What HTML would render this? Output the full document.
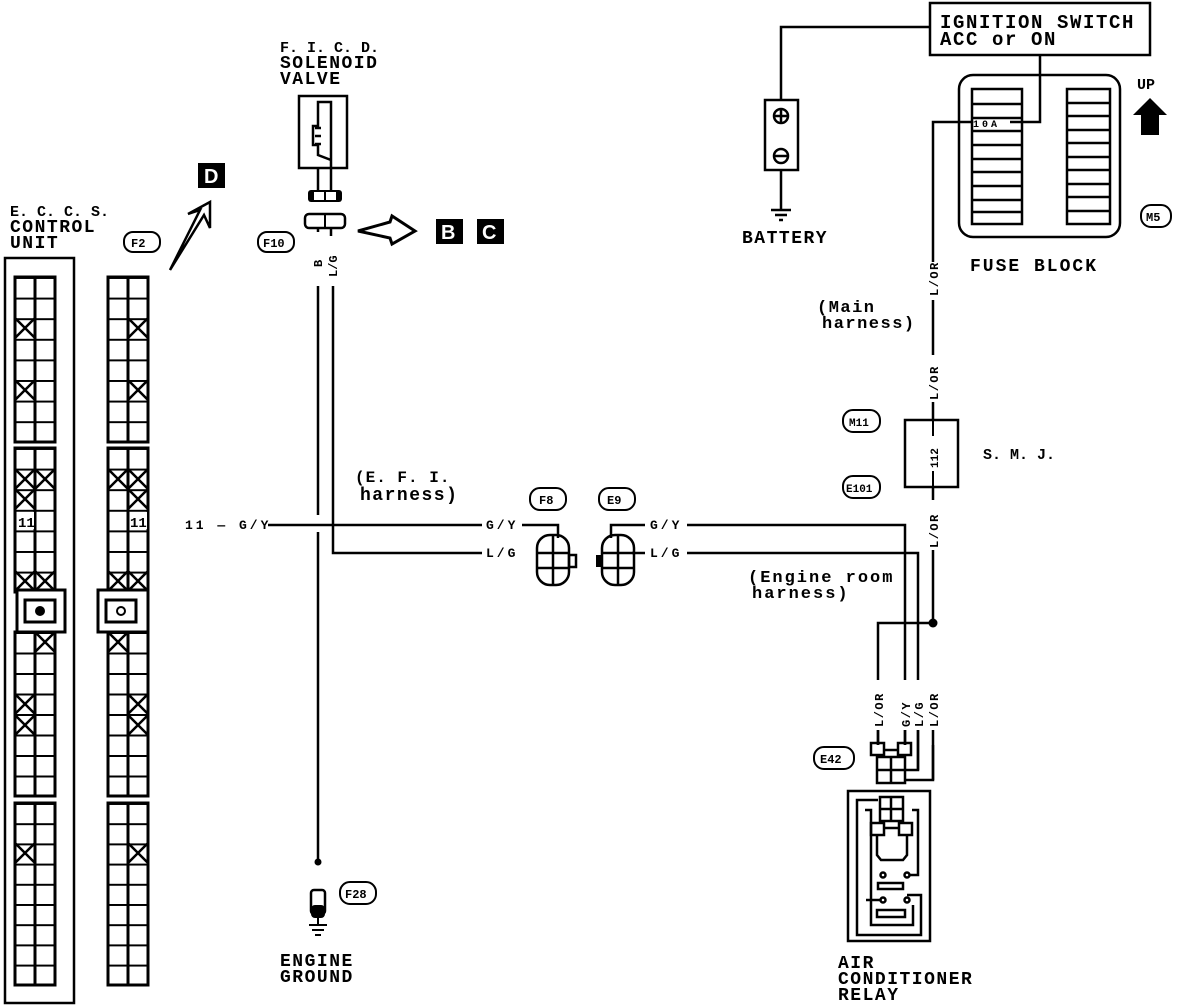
<!DOCTYPE html>
<html><head><meta charset="utf-8"><style>
body{margin:0;background:#fff}
svg{display:block}
text{font-family:"Liberation Mono",monospace;font-weight:bold;fill:#000}
.w{font-size:18px;letter-spacing:1.5px}
.s{font-size:13px;letter-spacing:3px}
</style></head><body>
<svg width="1200" height="1008" viewBox="0 0 1200 1008" xmlns="http://www.w3.org/2000/svg">
<defs>
<pattern id="pA" patternUnits="userSpaceOnUse" x="0" y="277" width="200" height="20.6"><line x1="0" y1="0" x2="200" y2="0" stroke="#000" stroke-width="4"/></pattern>
<pattern id="pB" patternUnits="userSpaceOnUse" x="0" y="448" width="200" height="20.6"><line x1="0" y1="0" x2="200" y2="0" stroke="#000" stroke-width="4"/></pattern>
<pattern id="pC" patternUnits="userSpaceOnUse" x="0" y="632" width="200" height="20.5"><line x1="0" y1="0" x2="200" y2="0" stroke="#000" stroke-width="4"/></pattern>
<pattern id="pD" patternUnits="userSpaceOnUse" x="0" y="803" width="200" height="20.2"><line x1="0" y1="0" x2="200" y2="0" stroke="#000" stroke-width="4"/></pattern>
</defs>
<g fill="none" stroke="#000" stroke-width="3">
<rect x="5" y="258" width="69" height="745" stroke-width="2.5"/>
<g>
<rect x="15" y="277" width="40" height="165" fill="url(#pA)"/>
<rect x="15" y="448" width="40" height="144" fill="url(#pB)"/>
<rect x="15" y="632" width="40" height="164" fill="url(#pC)"/>
<rect x="15" y="803" width="40" height="182" fill="url(#pD)"/>
<line x1="35" y1="277" x2="35" y2="442"/><line x1="35" y1="448" x2="35" y2="592"/><line x1="35" y1="632" x2="35" y2="796"/><line x1="35" y1="803" x2="35" y2="985"/>
</g>
<g>
<rect x="108" y="277" width="40" height="165" fill="url(#pA)"/>
<rect x="108" y="448" width="40" height="144" fill="url(#pB)"/>
<rect x="108" y="632" width="40" height="164" fill="url(#pC)"/>
<rect x="108" y="803" width="40" height="182" fill="url(#pD)"/>
<line x1="128" y1="277" x2="128" y2="442"/><line x1="128" y1="448" x2="128" y2="592"/><line x1="128" y1="632" x2="128" y2="796"/><line x1="128" y1="803" x2="128" y2="985"/>
</g>
<g stroke-width="2.5">
<path d="M15 318l20 20M35 318l-20 20 M15 380l20 20M35 380l-20 20 M15 469l20 20M35 469l-20 20 M35 469l20 20M55 469l-20 20 M15 489l20 20M35 489l-20 20 M15 571l20 20M35 571l-20 20 M35 571l20 20M55 571l-20 20 M35 632l20 20M55 632l-20 20 M15 694l20 20M35 694l-20 20 M15 715l20 20M35 715l-20 20 M15 843l20 20M35 843l-20 20"/>
<path d="M128 318l20 20M148 318l-20 20 M128 380l20 20M148 380l-20 20 M108 469l20 20M128 469l-20 20 M128 469l20 20M148 469l-20 20 M128 489l20 20M148 489l-20 20 M108 571l20 20M128 571l-20 20 M128 571l20 20M148 571l-20 20 M108 632l20 20M128 632l-20 20 M128 694l20 20M148 694l-20 20 M128 715l20 20M148 715l-20 20 M128 843l20 20M148 843l-20 20"/>
</g>
<rect x="17" y="590" width="48" height="42" fill="#fff"/>
<rect x="25" y="600" width="30" height="22"/>
<rect x="98" y="590" width="50" height="42" fill="#fff"/>
<rect x="106" y="600" width="30" height="22"/>
<circle cx="121" cy="611" r="4" stroke-width="2"/>
</g>
<circle cx="40" cy="611" r="5" fill="#000"/>
<rect x="17" y="512" width="17" height="17" fill="#fff"/><text x="18" y="527" font-size="14">11</text>
<rect x="130" y="512" width="17" height="17" fill="#fff"/><text x="130" y="527" font-size="14">11</text>

<text x="10" y="216" font-size="15">E. C. C. S.</text>
<text x="10" y="232" class="w">CONTROL</text>
<text x="10" y="248" class="w">UNIT</text>
<rect x="124" y="232" width="36" height="20" rx="9" fill="none" stroke="#000" stroke-width="2"/><text x="131" y="247" font-size="12">F2</text>
<rect x="198" y="163" width="27" height="25" fill="#000"/><text x="204" y="183" font-size="20" style="fill:#fff;font-family:'Liberation Sans',sans-serif">D</text>
<path d="M170 270 L200 210 L188 214 L210 202 L210 228 L204 215 Z" fill="none" stroke="#000" stroke-width="2.5"/>

<text x="280" y="52" font-size="15">F. I. C. D.</text>
<text x="280" y="68" class="w">SOLENOID</text>
<text x="280" y="84" class="w">VALVE</text>
<g fill="none" stroke="#000" stroke-width="2.5">
<rect x="299" y="96" width="48" height="72"/>
<path d="M331 168V102H318V126H313V145H318V155L331 160"/>
<path d="M318 168V195M331 168V195"/>
<path d="M315 128h6M315 136h6M315 144h6"/>
</g>
<rect x="308" y="190" width="34" height="12" rx="3" fill="#000"/><rect x="314" y="192" width="22" height="8" fill="#fff"/><line x1="325" y1="190" x2="325" y2="202" stroke="#000" stroke-width="2"/>
<rect x="305" y="214" width="40" height="14" rx="4" fill="none" stroke="#000" stroke-width="2.5"/><line x1="325" y1="214" x2="325" y2="228" stroke="#000" stroke-width="2"/>
<path d="M318 228V232M331 228L331 236" stroke="#000" stroke-width="2.5"/>
<rect x="258" y="232" width="36" height="20" rx="9" fill="none" stroke="#000" stroke-width="2"/><text x="263" y="247" font-size="12">F10</text>
<text transform="translate(322,267) rotate(-90)" font-size="12">B</text>
<text transform="translate(337,277) rotate(-90)" font-size="12">L/G</text>
<path d="M358 231 L390 222 L392 216 L415 231 L392 244 L390 238 Z" fill="none" stroke="#000" stroke-width="3"/>
<rect x="436" y="219" width="27" height="25" fill="#000"/><text x="441" y="239" font-size="20" style="fill:#fff;font-family:'Liberation Sans',sans-serif">B</text>
<rect x="477" y="219" width="27" height="25" fill="#000"/><text x="482" y="239" font-size="20" style="fill:#fff;font-family:'Liberation Sans',sans-serif">C</text>

<g fill="none" stroke="#000" stroke-width="2.5">
<path d="M318 286V515M318 532V860"/>
<path d="M333 286V553H520"/>
<path d="M268 525H558V538"/>
<path d="M632 553H918V745"/>
<path d="M611 538V525H905V745"/>
<path d="M878 745V623H933"/>
<path d="M933 745V780H905"/>
<path d="M918 745V770H905"/>
</g>
<text x="185" y="529" class="s">11 — G/Y</text>
<rect x="482" y="517" width="40" height="14" fill="#fff"/><text x="486" y="529" class="s">G/Y</text>
<rect x="482" y="545" width="40" height="14" fill="#fff"/><text x="486" y="557" class="s">L/G</text>
<rect x="645" y="517" width="42" height="14" fill="#fff"/><text x="650" y="529" class="s">G/Y</text>
<rect x="645" y="545" width="42" height="14" fill="#fff"/><text x="650" y="557" class="s">L/G</text>
<text x="355" y="482" font-size="16" style="letter-spacing:1px">(E. F. I.</text>
<text x="360" y="500" class="w">harness)</text>
<rect x="530" y="488" width="36" height="22" rx="10" fill="none" stroke="#000" stroke-width="2"/><text x="539" y="504" font-size="12">F8</text>
<rect x="599" y="488" width="36" height="22" rx="10" fill="none" stroke="#000" stroke-width="2"/><text x="607" y="504" font-size="12">E9</text>
<g fill="none" stroke="#000" stroke-width="2.5">
<rect x="537" y="535" width="32" height="50" rx="13"/><path d="M537 553h32M537 568h32M553 535v50"/><rect x="569" y="555" width="7" height="12"/>
<rect x="602" y="535" width="32" height="50" rx="13"/><path d="M602 553h32M602 568h32M618 535v50"/>
</g>
<rect x="596" y="555" width="7" height="12" fill="#000"/>

<circle cx="318" cy="862" r="3.5" fill="#000"/>
<rect x="311" y="890" width="14" height="24" rx="3" fill="none" stroke="#000" stroke-width="2.5"/><rect x="311" y="905" width="14" height="13" rx="4" fill="#000"/>
<path d="M318 918V925M309 925h18M312 930h12M315 935h6" stroke="#000" stroke-width="2"/>
<rect x="340" y="882" width="36" height="22" rx="10" fill="none" stroke="#000" stroke-width="2"/><text x="345" y="898" font-size="12">F28</text>
<text x="280" y="966" class="w">ENGINE</text>
<text x="280" y="982" class="w">GROUND</text>

<rect x="930" y="3" width="220" height="52" fill="none" stroke="#000" stroke-width="2.5"/>
<text x="940" y="28" font-size="19" style="letter-spacing:1.6px">IGNITION SWITCH</text>
<text x="940" y="45" font-size="19" style="letter-spacing:1.6px">ACC or ON</text>
<g fill="none" stroke="#000" stroke-width="2.5">
<path d="M930 27H781V100"/>
<rect x="765" y="100" width="33" height="70"/>
<circle cx="781" cy="116" r="7"/><path d="M774 116h14M781 109v14"/>
<circle cx="781" cy="156" r="7"/><path d="M774 156h14"/>
<path d="M781 170V210M771 210h20M775 215h12M779 220h4"/>
<path d="M1040 55V122H1010"/>
<rect x="959" y="75" width="161" height="162" rx="14"/>
<rect x="972" y="89" width="50" height="135"/>
<path d="M972 104h50M972 118h50M972 131h50M972 145h50M972 159h50M972 172h50M972 186h50M972 200h50M972 212h50"/>
<rect x="1067" y="89" width="43" height="135"/>
<path d="M1067 103h43M1067 116h43M1067 130h43M1067 143h43M1067 157h43M1067 170h43M1067 184h43M1067 197h43M1067 211h43"/>
<path d="M972 122H933V262M933 300V355M933 402V420M933 487V500M933 550V623"/>
</g>
<text x="973" y="127" font-size="10" style="letter-spacing:3px">10A</text>
<text x="742" y="243" class="w">BATTERY</text>
<text x="970" y="271" class="w" style="letter-spacing:2px">FUSE BLOCK</text>
<text x="1137" y="89" font-size="15">UP</text>
<path d="M1133 115 L1150 98 L1167 115 L1159 115 L1159 135 L1141 135 L1141 115 Z" fill="#000"/>
<rect x="1141" y="205" width="30" height="22" rx="10" fill="none" stroke="#000" stroke-width="2"/><text x="1146" y="221" font-size="12">M5</text>
<text transform="translate(938,296) rotate(-90)" font-size="12" style="letter-spacing:1.5px">L/OR</text>
<text transform="translate(938,400) rotate(-90)" font-size="12" style="letter-spacing:1.5px">L/OR</text>
<text transform="translate(938,548) rotate(-90)" font-size="12" style="letter-spacing:1.5px">L/OR</text>
<text x="817" y="312" font-size="17" style="letter-spacing:1.5px">(Main</text>
<text x="822" y="328" font-size="17" style="letter-spacing:1.5px">harness)</text>
<rect x="905" y="420" width="53" height="67" fill="none" stroke="#000" stroke-width="2.5"/>
<path d="M933 420V436M933 471V487" stroke="#000" stroke-width="2"/>
<text transform="translate(938,468) rotate(-90)" font-size="11">112</text>
<text x="983" y="459" font-size="15">S. M. J.</text>
<rect x="843" y="410" width="37" height="22" rx="10" fill="none" stroke="#000" stroke-width="2"/><text x="849" y="426" font-size="11">M11</text>
<rect x="843" y="476" width="37" height="22" rx="10" fill="none" stroke="#000" stroke-width="2"/><text x="846" y="492" font-size="11">E101</text>
<text x="748" y="582" font-size="17" style="letter-spacing:2px">(Engine room</text>
<text x="752" y="598" font-size="17" style="letter-spacing:2px">harness)</text>
<circle cx="933" cy="623" r="4.5" fill="#000"/>
<rect x="870" y="680" width="70" height="50" fill="#fff"/>
<text transform="translate(883,727) rotate(-90)" font-size="12" style="letter-spacing:1.5px">L/OR</text>
<text transform="translate(910,727) rotate(-90)" font-size="12" style="letter-spacing:1.5px">G/Y</text>
<text transform="translate(923,727) rotate(-90)" font-size="12" style="letter-spacing:1.5px">L/G</text>
<text transform="translate(938,727) rotate(-90)" font-size="12" style="letter-spacing:1.5px">L/OR</text>
<path d="M878 730V745M905 730V745M918 730V770M933 730V780" stroke="#000" stroke-width="2.5"/>
<rect x="814" y="747" width="40" height="22" rx="10" fill="none" stroke="#000" stroke-width="2"/><text x="820" y="763" font-size="12">E42</text>
<g fill="none" stroke="#000" stroke-width="2.5">
<rect x="871" y="743" width="13" height="12"/><rect x="898" y="743" width="13" height="12"/>
<path d="M884 750h14"/>
<rect x="877" y="757" width="28" height="26"/><path d="M891 757v26M877 770h28"/>
<rect x="848" y="791" width="82" height="150"/>
<path d="M878 800H857V935H921V895H907"/>
<rect x="880" y="797" width="23" height="24"/><path d="M891 797v24M880 809h23"/>
<rect x="871" y="823" width="13" height="12"/><rect x="899" y="823" width="13" height="12"/>
<path d="M877 835V855L881 860H903L907 855V835"/>
<path d="M884 828h15"/>
<path d="M865 810H871V925H913V905 M912 810H918V875H910"/>
<rect x="878" y="883" width="25" height="6"/><rect x="877" y="910" width="28" height="7"/>
<circle cx="883" cy="875" r="2.5"/><circle cx="907" cy="875" r="2.5"/><circle cx="883" cy="900" r="2.5"/><circle cx="907" cy="900" r="2.5"/>
<path d="M866 900H880"/>
</g>
<text x="838" y="968" class="w">AIR</text>
<text x="838" y="984" class="w">CONDITIONER</text>
<text x="838" y="1000" class="w">RELAY</text>
</svg>
</body></html>
